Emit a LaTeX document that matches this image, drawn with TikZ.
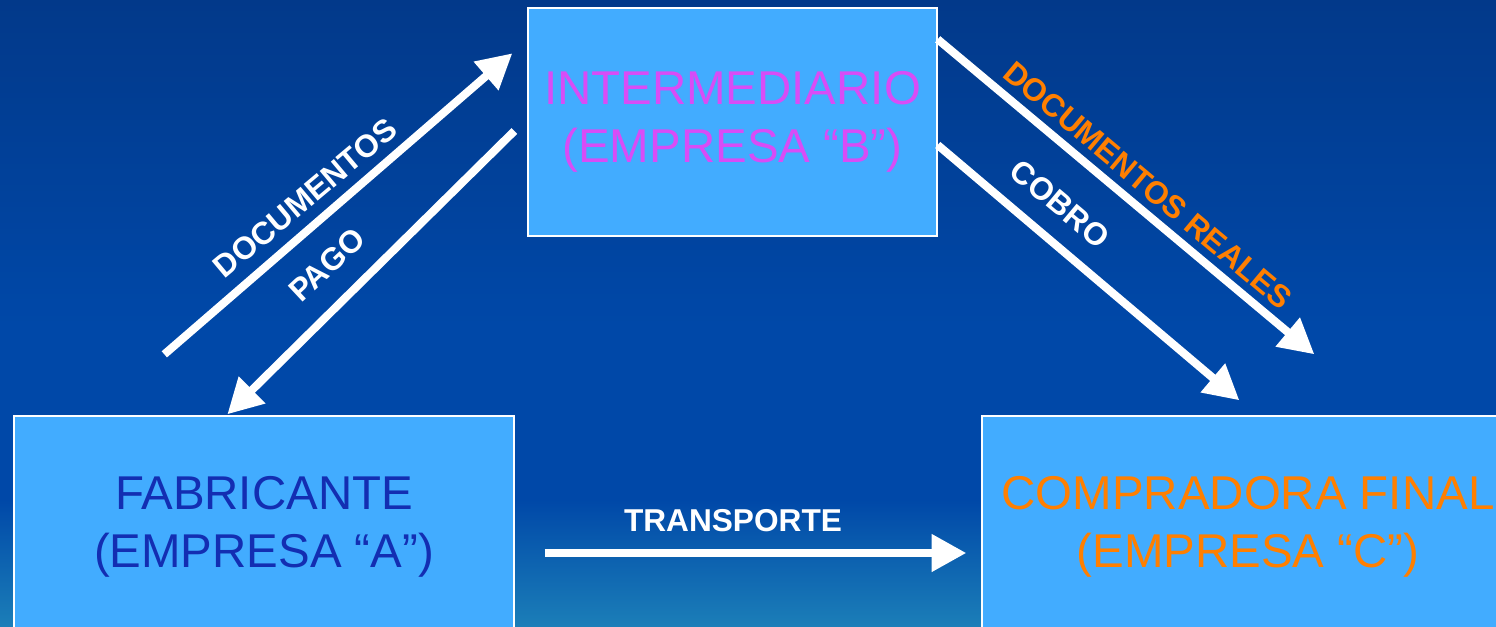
\documentclass[tikz,border=0pt]{standalone}
\usepackage{fontspec}
\setmainfont{Liberation Sans}
\usetikzlibrary{arrows.meta, positioning, calc}
\definecolor{bgTop}{HTML}{02398A}
\definecolor{bgMid}{HTML}{0048A8}
\definecolor{bgLow}{HTML}{1B7EB8}
\definecolor{boxBlue}{HTML}{42ACFF}
\definecolor{textMagenta}{HTML}{D84CF6}
\definecolor{textNavy}{HTML}{132EB2}
\definecolor{realOrange}{HTML}{FF7F00}
\tikzset{
    % Boxes
    firmBox/.style={
        rectangle, draw=white, line width=0.8pt, fill=boxBlue,
        align=center, inner sep=0pt, font=\fontsize{27}{33}\selectfont
    },
    % Arrows
    flowArrow/.style={-{Triangle[length=19.8pt, width=20.4pt]}, line width=4.6pt, draw=white},
    flowLabel/.style={font=\bfseries\fontsize{18}{21}\selectfont, text=white, inner sep=0pt}
}

\begin{document}
\begin{tikzpicture}[x=0.02cm, y=0.02cm]
        \useasboundingbox (0,0) rectangle (1496,626);
        \clip (0,0) rectangle (1496,626);

        % Background
        \fill[top color=bgTop, bottom color=bgMid] (0,300) rectangle (1496,626);
        \fill[bgMid] (0,126) rectangle (1496,300.5);
        \fill[top color=bgMid, bottom color=bgLow] (0,0) rectangle (1496,126.5);

        % Companies
        \node[firmBox, text=textMagenta, minimum width=8.18cm, minimum height=4.56cm] (inter) at (732.5,504) {INTERMEDIARIO\\(EMPRESA “B”)};
        \node[firmBox, text=textNavy, minimum width=10cm, minimum height=4.42cm] (fabr) at (264,99.5) {FABRICANTE\\(EMPRESA “A”)};
        \node[firmBox, text=realOrange, minimum width=10.64cm, minimum height=4.42cm] (comp) at (1248,99.5) {COMPRADORA FINAL\\(EMPRESA “C”)};

        % Arrow ends
        \coordinate (docFrom) at ($(fabr.north west)+(151,61)$);
        \coordinate (docTo) at ($(inter.north west)+(-15,-46)$);
        \coordinate (pagoFrom) at ($(inter.west)+(-13,-9)$);
        \coordinate (pagoTo) at ($(fabr.north west)+(214,1)$);
        \coordinate (realFrom) at ($(inter.north east)+(0,-32)$);
        \coordinate (realTo) at ($(comp.north west)+(333,61)$);
        \coordinate (cobroFrom) at ($(inter.east)+(0,-23)$);
        \coordinate (cobroTo) at ($(comp.north west)+(258,15)$);
        \coordinate (transFrom) at ($(fabr.east)+(30,-26.5)$);
        \coordinate (transTo) at ($(comp.west)+(-15,-26.5)$);

        % Flows
        \draw[flowArrow] (docFrom) -- (docTo);
        \draw[flowArrow] (pagoFrom) -- (pagoTo);
        \draw[flowArrow] (realFrom) -- (realTo);
        \draw[flowArrow] (cobroFrom) -- (cobroTo);
        \draw[flowArrow] (transFrom) -- (transTo);

        % Labels
        \node[flowLabel, rotate=40] (docLabel) at (305,428) {DOCUMENTOS};
        \node[flowLabel, rotate=43] (pagoLabel) at (327,361) {PAGO};
        \node[flowLabel, text=realOrange, rotate=-40] (realLabel) at (1148,441) {DOCUMENTOS REALES};
        \node[flowLabel, rotate=-40] (cobroLabel) at (1060,422) {COBRO};
        \node[flowLabel] (transLabel) at (733,105) {TRANSPORTE};
    \end{tikzpicture}
\end{document}
